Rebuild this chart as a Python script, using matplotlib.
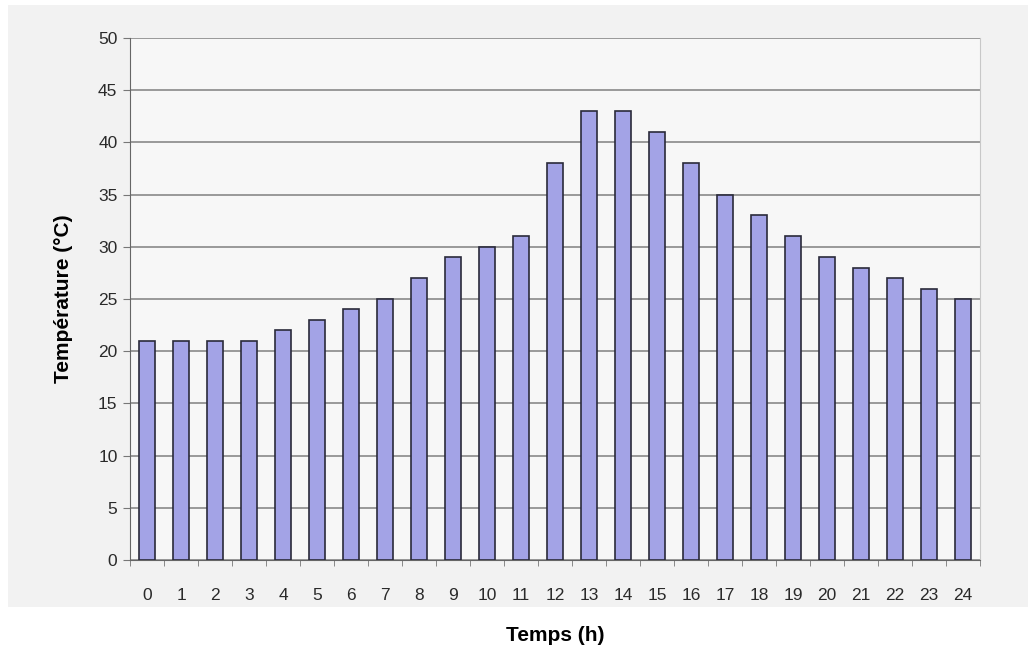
import matplotlib
matplotlib.use('Agg')
import matplotlib.pyplot as plt
from matplotlib.patches import Rectangle

hours = list(range(25))
temps = [21, 21, 21, 21, 22, 23, 24, 25, 27, 29, 30, 31, 38, 43, 43, 41,
         38, 35, 33, 31, 29, 28, 27, 26, 25]
yticks = list(range(0, 55, 5))

plt.rcParams['font.family'] = ['Liberation Sans', 'DejaVu Sans']

fig = plt.figure(figsize=(10.28, 6.57), dpi=100)
fig.patch.set_facecolor('white')
# light gray chart area behind the plot
fig.patches.append(Rectangle((8 / 1028, 1 - 607 / 657), 1 - 8 / 1028, 602 / 657,
                             transform=fig.transFigure, facecolor='#f2f2f2',
                             edgecolor='none', zorder=-5))

ax = fig.add_axes([130 / 1028, 1 - 560 / 657, 850 / 1028, 522 / 657])
ax.set_facecolor('#f7f7f7')

ax.bar(hours, temps, width=0.45, color='#a3a3e6', edgecolor='#2a2a3a',
       linewidth=1.2, zorder=3)

ax.set_xlim(-0.5, 24.5)
ax.set_ylim(0, 50)
ax.set_yticks(yticks)
ax.yaxis.grid(True, color='#7f7f7f', linewidth=1.1, zorder=0)

ax.set_xticks(hours)
ax.set_xticklabels([str(h) for h in hours])
ax.set_xticks([h + 0.5 for h in range(-1, 25)], minor=True)
ax.tick_params(axis='x', which='major', length=0, pad=20, labelsize=12.5,
               labelcolor='#2a2a2a')
ax.tick_params(axis='x', which='minor', length=4, color='#777777', direction='out')
ax.tick_params(axis='y', length=5, color='#777777', labelsize=12.5,
               labelcolor='#2a2a2a', pad=4)

ax.spines['top'].set_visible(False)
ax.spines['left'].set_color('#666666')
ax.spines['bottom'].set_color('#666666')
ax.spines['right'].set_color('#c8c8c8')

ax.set_ylabel('Température (°C)', fontsize=15, fontweight='bold', labelpad=18)
ax.set_xlabel('Temps (h)', fontsize=15, fontweight='bold', labelpad=17)

fig.savefig('out.png', dpi=100)
